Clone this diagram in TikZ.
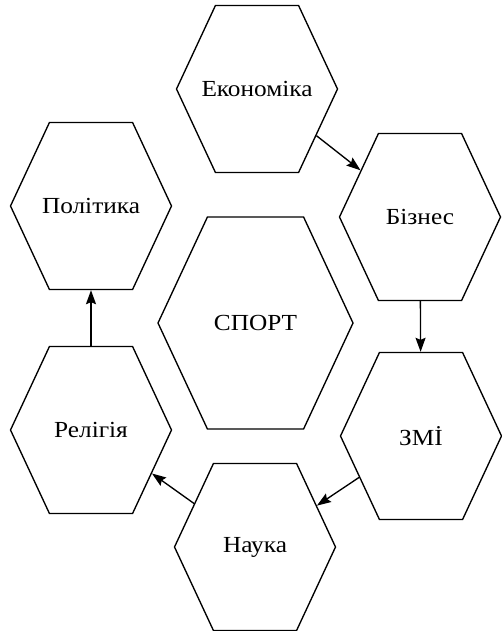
\documentclass[tikz,border=0pt]{standalone}
\usepackage{fontspec}
\setmainfont{Liberation Serif}[FakeStretch=1.1]
\usetikzlibrary{shapes.symbols,arrows.meta}
\newcommand{\hextext}[1]{\makebox[0pt]{#1}}

\begin{document}
\begin{tikzpicture}[x=1pt, y=-1pt, line width=1.35pt, >={Stealth[length=14pt,width=10pt,inset=2pt]}, main/.style = {draw, signal, signal to=east and west, signal pointer angle=130, inner sep=0pt, minimum width=161pt, minimum height=167pt, font=\fontsize{23}{27}\selectfont}, big/.style = {main, minimum width=195pt, minimum height=212pt}] 
\useasboundingbox (0,0) rectangle (502,631);
\node[main] (1) at (257,89) {\hextext{Економіка}}; 
\node[main] (2) at (420,217) {\hextext{Бізнес}}; 
\node[main] (3) at (421,436) {\hextext{ЗМİ}}; 
\node[main] (4) at (255,547) {\hextext{Наука}}; 
\node[main] (5) at (91,430) {\hextext{Релігія}}; 
\node[main] (6) at (91,206) {\hextext{Політика}}; 
\node[big] (7) at (255.5,323) {\hextext{СПОРТ}}; 
\draw[->] (1) -- (2); 
\draw[->] (2) -- (3); 
\draw[->] (3) -- (4); 
\draw[->] (4) -- (5); 
\draw[->] (5) -- (6); 
\end{tikzpicture}
\end{document}
